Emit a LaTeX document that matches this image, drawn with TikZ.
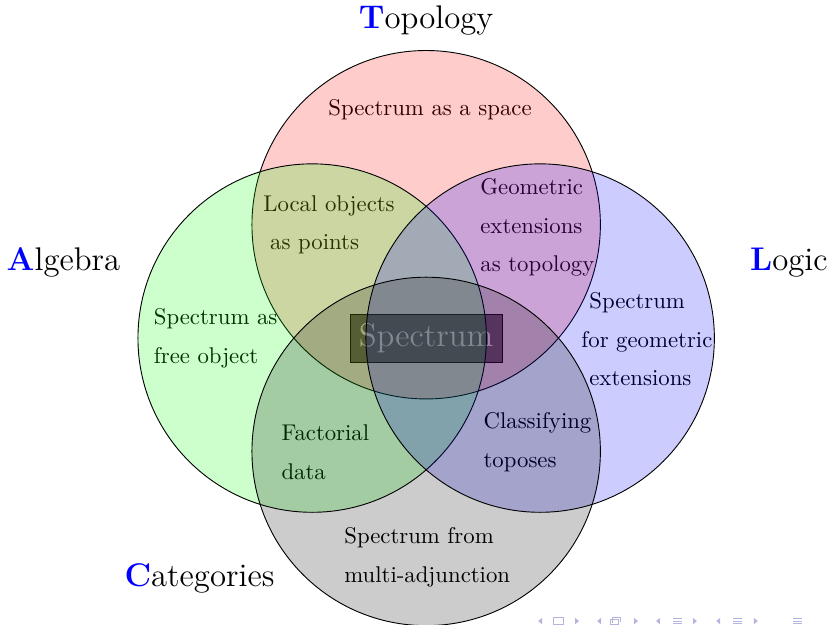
\documentclass[tikz,border=0pt]{standalone}
\usepackage{xcolor}
\usetikzlibrary{positioning}
\definecolor{navsym}{RGB}{180,180,225}

\begin{document}
\begin{tikzpicture}[
        set/.style={draw=black, fill opacity=0.2},
        region/.style={inner sep=0pt, anchor=west, align=left, font=\fontsize{10}{17}\selectfont},
        field/.style={font=\Large},
        core/.style={draw=black, fill=black, fill opacity=0.6, text=white, text opacity=1, font=\Large, minimum width=2.35cm, minimum height=0.74cm},
        navline/.style={navsym, line width=0.5pt},
    ]
        \useasboundingbox (-6.58,-4.43) rectangle (6.22,5.22);

        % Center
        \node[core] (spec) at (0,0) {Spectrum};

        % Texts of the regions
        \node[region, anchor=center] (space) at (0.06,3.52) {Spectrum as a space};
        \node[region] (local) at (-2.52,1.75) {Local objects\\\hspace{3pt}as points};
        \node[region] (geom) at (0.83,1.71) {Geometric\\extensions\\as topology};
        \node[region] (free) at (-4.21,0) {Spectrum as\\free object};
        \node[region] (ext) at (2.39,-0.02) {\hspace{3.5pt}Spectrum\\for geometric\\\hspace{3.5pt}extensions};
        \node[region] (fact) at (-2.24,-1.76) {Factorial\\data};
        \node[region] (class) at (0.88,-1.61) {Classifying\\toposes};
        \node[region] (multi) at (-1.27,-3.38) {Spectrum from\\multi-adjunction};

        % The four sets
        \draw[set, fill=red] (0,1.75) circle (2.69cm);
        \draw[set, fill=green] (-1.76,0) circle (2.69cm);
        \draw[set, fill=blue] (1.76,0) circle (2.69cm);
        \draw[set, fill=black] (0,-1.75) circle (2.69cm);

        % Labels of the sets
        \node[field] (topo) at (0,4.91) {\textcolor{blue}{\textbf{T}}opology};
        \node[field] (alg) at (-5.60,1.17) {\textcolor{blue}{\textbf{A}}lgebra};
        \node[field] (logic) at (5.60,1.17) {\textcolor{blue}{\textbf{L}}ogic};
        \node[field] (cat) at (-3.50,-3.71) {\textcolor{blue}{\textbf{C}}ategories};

        % Navigation symbols
        \foreach \x in {1.76,2.67,3.58,4.51}
            \fill[navsym] (\x+0.03,-4.32) -- (\x-0.03,-4.37) -- (\x+0.03,-4.42) -- cycle;
        \foreach \x in {2.33,3.24,4.15,5.09}
            \fill[navsym] (\x-0.03,-4.32) -- (\x+0.03,-4.37) -- (\x-0.03,-4.42) -- cycle;
        \draw[navline] (1.96,-4.42) rectangle (2.12,-4.32);
        \draw[navline] (2.85,-4.43) rectangle (2.97,-4.35);
        \draw[navline] (2.88,-4.40) -- (2.88,-4.32) -- (3.00,-4.32) -- (3.00,-4.38);
        \foreach \x in {3.88,4.80,5.73}
            \foreach \y in {-4.33,-4.37,-4.41}
                \draw[navline] (\x-0.07,\y) -- (\x+0.07,\y);
    \end{tikzpicture}
\end{document}
